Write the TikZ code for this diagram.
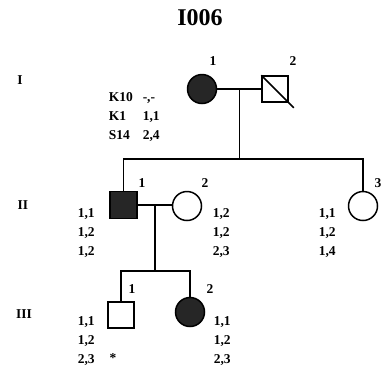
\documentclass[tikz,border=0pt]{standalone}
\usepackage{fontspec}
\setmainfont{Liberation Serif}
\usetikzlibrary{positioning}

\begin{document}
\begin{tikzpicture}[x=1pt,y=-1pt,line width=1.5pt,
  female/.style={draw,circle,minimum size=29pt,inner sep=0pt},
  male/.style={draw,rectangle,minimum size=26pt,inner sep=0pt},
  affected/.style={fill=black!85},
  idnum/.style={font=\fontsize{13.5}{13.5}\selectfont\bfseries,inner sep=0pt},
  gen/.style={font=\fontsize{13.5}{13.5}\selectfont\bfseries,inner sep=0pt},
  alleles/.style={font=\fontsize{13.5}{19}\selectfont\bfseries,align=left,
    anchor=base west,inner sep=0pt}]
\useasboundingbox (0,0) rectangle (382,368);
\node[font=\fontsize{24}{24}\selectfont\bfseries,anchor=base] (title) at (200,25) {I006};
% generation I
\node[female,affected] (i1) at (202,89) {};
\node[male] (i2) at (275,89) {};
\draw (i2.north west) -- ([shift={(5,5)}]i2.south east);
\draw (i1.east) -- node[coordinate,midway] (m1) {} (i2.west);
\coordinate (s1) at ([yshift=-70]m1);
\draw (m1) -- (s1);
\node[idnum] (n11) at (213,61) {1};
\node[idnum] (n12) at (293,61) {2};
\node[gen] (g1) at (20,80) {I};
\node[alleles] (mk) at (108,139) {K10\\K1\\S14};
\node[alleles] (a11) at (142,139) {-,-\\1,1\\2,4};
% generation II
\node[male,affected,minimum size=27pt] (ii1) at (123.5,205) {};
\node[female] (ii2) at (187,206) {};
\node[female] (ii3) at (363,206) {};
\draw (ii1.north) -- (ii1.north |- s1) -- (ii3.north |- s1) -- (ii3.north);
\draw (ii1.east) -- node[coordinate,midway] (m2) {} (ii1.east -| ii2.west);
\coordinate (s2) at ([yshift=-66]m2);
\draw (m2) -- (s2);
\node[idnum] (n21) at (142,183) {1};
\node[idnum] (n22) at (205,183) {2};
\node[idnum] (n23) at (378,183) {3};
\node[gen] (g2) at (23,205) {II};
\node[alleles] (a21) at (77,255) {1,1\\1,2\\1,2};
\node[alleles] (a22) at (212,255) {1,2\\1,2\\2,3};
\node[alleles] (a23) at (318,255) {1,1\\1,2\\1,4};
% generation III
\node[male] (iii1) at (121,315) {};
\node[female,affected] (iii2) at (190,312) {};
\draw (iii1.north) -- (iii1.north |- s2) -- (iii2.north |- s2) -- (iii2.north);
\node[idnum] (n31) at (132,289) {1};
\node[idnum] (n32) at (210,289) {2};
\node[gen] (g3) at (24,314) {III};
\node[alleles] (a31) at (77,363) {1,1\\1,2\\2,3};
\node[alleles] (a32) at (213,363) {1,1\\1,2\\2,3};
\node[idnum] (star) at (113,358) {*};
\end{tikzpicture}
\end{document}
